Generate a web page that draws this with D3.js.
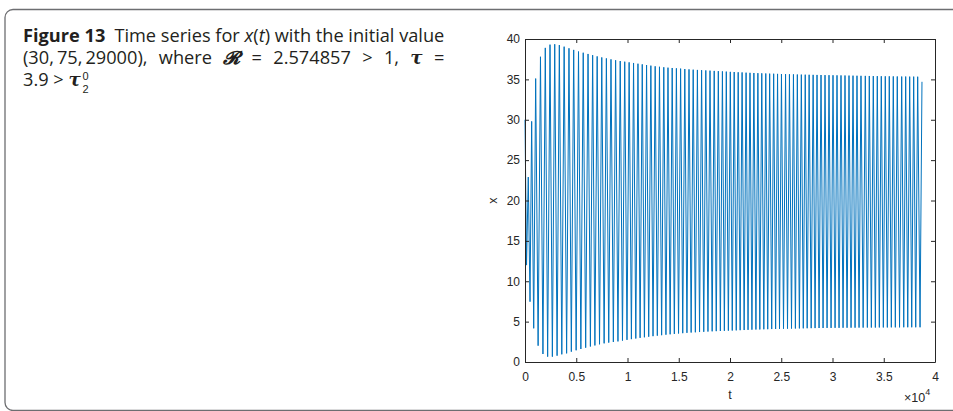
<!DOCTYPE html>
<html>
<head>
<meta charset="utf-8">
<script src="https://cdn.jsdelivr.net/npm/d3@7"></script>
<style>
  body { margin: 0; background: #fff; }
  svg { display: block; }
  .caption { font-family: 'Open Sans', 'Noto Sans', sans-serif; font-size: 18.2px; fill: #231f20; }
  .script { font-family: 'Liberation Sans', Arial, sans-serif; font-size: 11px; fill: #231f20; }
  .axis text { font-family: 'Liberation Sans', Arial, sans-serif; font-size: 12px; fill: #262626; }
  .axis path, .axis line { stroke: #262626; }
  .label { font-family: 'Liberation Sans', Arial, sans-serif; font-size: 12.5px; fill: #262626; }
</style>
</head>
<body>
<div id="chart"></div>
<script>
// series: first point, troughs, peaks, last point
let startPoint = [0, 30]
let endPoint = [38730, 34.7]

let peakT = [320, 650, 1040, 1510, 1980, 2440, 2900, 3350, 3820, 4290, 4750, 5220, 5680, 6150, 6600, 7040, 7490, 7940, 8390, 8840, 9290,
  9730, 10160, 10590, 11020, 11440, 11860, 12280, 12700, 13120, 13540, 13950, 14360, 14770, 15180, 15590, 16000, 16410, 16820, 17230, 17640, 18050, 18460, 18860, 19260,
  19640, 20030, 20410, 20800, 21180, 21570, 21950, 22330, 22720, 23100, 23490, 23870, 24260, 24640, 25020, 25420, 25800, 26190, 26570, 26960, 27340, 27720, 28110, 28490,
  28880, 29270, 29660, 30050, 30440, 30830, 31220, 31610, 32000, 32390, 32780, 33200, 33590, 33980, 34370, 34760, 35150, 35540, 35930, 36320, 36750, 37140, 37530, 37920, 38310]

let peakX = [22.9, 29.8, 35.1, 37.8, 38.9, 39.3, 39.35, 39.25, 39.05, 38.85, 38.65, 38.45, 38.3, 38.15, 38.0, 37.85, 37.72, 37.6, 37.48, 37.37, 37.27,
  37.19, 37.11, 37.03, 36.94, 36.86, 36.78, 36.7, 36.62, 36.56, 36.5, 36.45, 36.41, 36.37, 36.33, 36.28, 36.24, 36.2, 36.17, 36.14, 36.11, 36.08, 36.05, 36.02, 35.99,
  35.96, 35.93, 35.91, 35.88, 35.86, 35.83, 35.81, 35.79, 35.77, 35.75, 35.73, 35.71, 35.7, 35.68, 35.66, 35.65, 35.63, 35.62, 35.6, 35.59, 35.58, 35.57, 35.56, 35.55,
  35.54, 35.53, 35.52, 35.51, 35.5, 35.49, 35.48, 35.47, 35.46, 35.45, 35.44, 35.43, 35.42, 35.41, 35.4, 35.39, 35.38, 35.38, 35.37, 35.36, 35.35, 35.35, 35.34, 35.34, 35.33]

let troughT = [150, 490, 850, 1280, 1750, 2210, 2670, 3130, 3590, 4060, 4520, 4990, 5450, 5920, 6380, 6820, 7270, 7720, 8170, 8620, 9070,
  9510, 9950, 10380, 10810, 11230, 11650, 12070, 12490, 12910, 13330, 13750, 14160, 14570, 14980, 15390, 15800, 16210, 16620, 17030, 17440, 17850, 18260, 18660, 19060,
  19450, 19840, 20220, 20610, 20990, 21380, 21760, 22140, 22530, 22910, 23300, 23680, 24070, 24450, 24830, 25220, 25610, 26000, 26380, 26770, 27150, 27530, 27920, 28300,
  28690, 29080, 29470, 29860, 30250, 30640, 31030, 31420, 31810, 32200, 32590, 32990, 33400, 33790, 34180, 34570, 34960, 35350, 35740, 36130, 36540, 36950, 37340, 37730, 38120,
  38540]

let troughX = [12.0, 7.47, 4.17, 2.02, 0.99, 0.66, 0.66, 0.78, 0.95, 1.07, 1.28, 1.45, 1.61, 1.77, 1.92, 2.05, 2.19, 2.31, 2.40, 2.48, 2.55,
  2.65, 2.74, 2.83, 2.91, 2.99, 3.06, 3.13, 3.2, 3.26, 3.32, 3.38, 3.43, 3.48, 3.53, 3.57, 3.61, 3.65, 3.68, 3.71, 3.74, 3.77, 3.8, 3.82, 3.84,
  3.86, 3.88, 3.9, 3.92, 3.94, 3.96, 3.98, 4.0, 4.02, 4.03, 4.05, 4.06, 4.08, 4.09, 4.1, 4.12, 4.13, 4.14, 4.15, 4.16, 4.17, 4.18, 4.19, 4.2,
  4.21, 4.21, 4.22, 4.22, 4.23, 4.23, 4.24, 4.24, 4.25, 4.25, 4.26, 4.26, 4.27, 4.27, 4.27, 4.28, 4.28, 4.28, 4.29, 4.29, 4.29, 4.3, 4.3, 4.3, 4.3,
  4.3]

let xTicks = [0, 0.5, 1, 1.5, 2, 2.5, 3, 3.5, 4] // x 10^4
let yTicks = [0, 5, 10, 15, 20, 25, 30, 35, 40]

let width = 953
let height = 411
let margin = { top: 39, left: 525, right: 18, bottom: 49 }

let svg = d3
  .select('#chart')
  .append('svg')
  .attr('width', width)
  .attr('height', height)

// panel frame
svg
  .append('rect')
  .attr('x', 5)
  .attr('y', 9.5)
  .attr('width', 1000)
  .attr('height', 401)
  .attr('rx', 8)
  .attr('fill', 'none')
  .attr('stroke', '#6d6e71')
  .attr('stroke-width', 1.3)

// caption, one text per line so line 2 can be justified to line 1
let mathFont = "'DejaVu Serif', serif"

let l1 = svg.append('text').attr('class', 'caption').attr('x', 23).attr('y', 42)
l1.append('tspan').attr('font-weight', 'bold').text('Figure 13')
l1.append('tspan').text('\u2002Time series for ')
l1.append('tspan').attr('font-style', 'italic').text('x')
l1.append('tspan').text('(')
l1.append('tspan').attr('font-style', 'italic').text('t')
l1.append('tspan').text(') with the initial value')

let l2 = svg.append('text').attr('class', 'caption').attr('x', 23).attr('y', 64)
l2.append('tspan').text('(30,\u200975,\u200929000), where ')
l2.append('tspan')
  .attr('font-family', mathFont)
  .attr('font-weight', 'bold')
  .attr('font-style', 'italic')
  .text('\u{1D4E1}')
l2.append('tspan').text(' = 2.574857 > 1, ')
l2.append('tspan')
  .attr('font-family', mathFont)
  .attr('font-weight', 'bold')
  .attr('font-style', 'italic')
  .text('\u03C4')
l2.append('tspan').text(' =')

let w1 = l1.node().getBBox().width
let w2 = l2.node().getBBox().width
let spaces = l2.text().split(' ').length - 1
l2.style('word-spacing', ((w1 - w2) / spaces) + 'px')

let l3 = svg.append('text').attr('class', 'caption').attr('x', 23).attr('y', 86)
l3.append('tspan').text('3.9 > ')
l3.append('tspan')
  .attr('font-family', mathFont)
  .attr('font-weight', 'bold')
  .attr('font-style', 'italic')
  .text('\u03C4')
let scriptX = 23 + l3.node().getBBox().width + 1
svg.append('text').attr('class', 'script').attr('x', scriptX).attr('y', 92.5).text('2')
svg.append('text').attr('class', 'script').attr('x', scriptX).attr('y', 79.8).text('0')

// scales
let x = d3.scaleLinear().domain([0, 40000]).range([margin.left, width - margin.right])
let y = d3.scaleLinear().domain([0, 40]).range([height - margin.bottom, margin.top])

// build the series from the read values
let series = [startPoint]
troughT.forEach((t, i) => {
  series.push([t, troughX[i]])
  if (i < peakT.length) series.push([peakT[i], peakX[i]])
})
series.push(endPoint)

let line = d3
  .line()
  .x(d => x(d[0]))
  .y(d => y(d[1]))

svg
  .append('path')
  .datum(series)
  .attr('d', line)
  .attr('fill', 'none')
  .attr('stroke', '#0072bd')
  .attr('stroke-width', 1)
  .attr('stroke-linejoin', 'miter')

// axes, matlab style: box with inward ticks
let xTickVals = xTicks.map(d => d * 1e4)

svg
  .append('g')
  .attr('class', 'axis')
  .attr('transform', 'translate(0,' + y(0) + ')')
  .call(
    d3.axisBottom(x)
      .tickValues(xTickVals)
      .tickFormat((d, i) => xTicks[i])
      .tickSizeInner(-4)
      .tickSizeOuter(0)
      .tickPadding(10)
  )

svg
  .append('g')
  .attr('class', 'axis')
  .attr('transform', 'translate(0,' + y(40) + ')')
  .call(d3.axisTop(x).tickValues(xTickVals).tickFormat('').tickSizeInner(-4).tickSizeOuter(0))

svg
  .append('g')
  .attr('class', 'axis')
  .attr('transform', 'translate(' + x(0) + ',0)')
  .call(d3.axisLeft(y).tickValues(yTicks).tickSizeInner(-4).tickSizeOuter(0).tickPadding(5))

svg
  .append('g')
  .attr('class', 'axis')
  .attr('transform', 'translate(' + x(40000) + ',0)')
  .call(d3.axisRight(y).tickValues(yTicks).tickFormat('').tickSizeInner(-4).tickSizeOuter(0))

// axis labels
svg
  .append('text')
  .attr('class', 'label')
  .attr('x', (x(0) + x(40000)) / 2)
  .attr('y', 399)
  .attr('text-anchor', 'middle')
  .text('t')

svg
  .append('text')
  .attr('class', 'label')
  .attr('transform', 'translate(497,' + (y(0) + y(40)) / 2 + ') rotate(-90)')
  .attr('text-anchor', 'middle')
  .text('x')

let exp = svg
  .append('text')
  .attr('class', 'label')
  .attr('x', 904)
  .attr('y', 402)
exp.append('tspan').text('\u00D710')
exp.append('tspan').attr('font-size', '9px').attr('dy', -7).text('4')
</script>
</body>
</html>
